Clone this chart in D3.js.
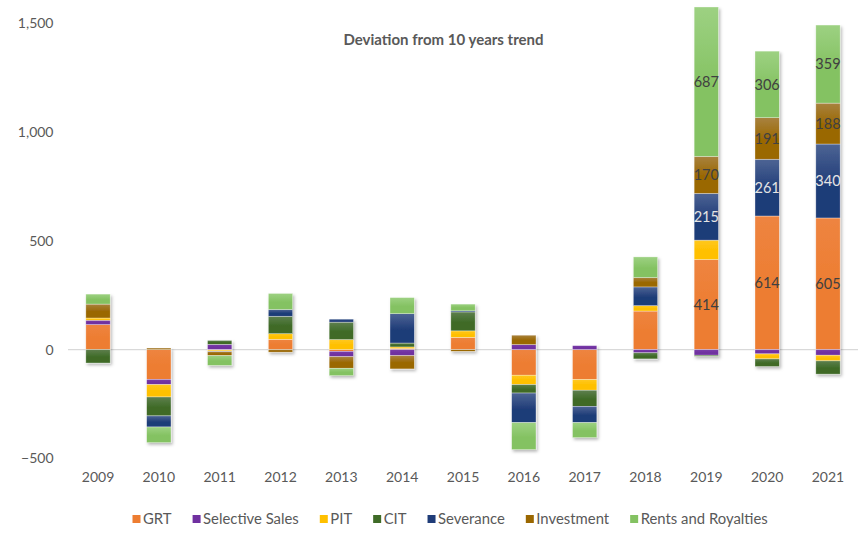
<!DOCTYPE html>
<html><head><meta charset="utf-8">
<script src="https://cdn.jsdelivr.net/npm/d3@7"></script>
<style>
body{margin:0;background:#fff}
svg{display:block;font-family:Lato,"Liberation Sans",sans-serif}
</style>
</head><body>
<svg id="c" width="866" height="534"></svg>
<script>
// ---- data ----
const years = ["2009","2010","2011","2012","2013","2014","2015","2016","2017","2018","2019","2020","2021"];
const seriesNames = ["GRT","Selective Sales","PIT","CIT","Severance","Investment","Rents and Royalties"];
const GRT        = [115,-137, -2, 47, -8,  5, 56,-118,-138,177,414,614,605];
const Selective  = [ 20, -24, 24,  0,-25,-28,  0,  23,  18,-15,-26,-20,-26];
const PIT        = [ 10, -57, -5, 26, 46,  7, 30, -43, -49, 25, 89,-23,-26];
const CIT        = [-62, -87, 18, 80, 80, 18, 87, -39, -74,-28, -5,-35,-61];
const Severance  = [  0, -51, -3, 31, 14,135,  5,-136, -75, 86,215,261,340];
const Investment = [ 64,   7,-18,-12,-53,-61, -8,  43,   0, 43,170,191,188];
const Rents      = [ 46, -72,-45, 74,-34, 74, 31,-124, -69, 95,687,306,359];
const yTicks = [-500, 0, 500, 1000, 1500];
const labelledYears = ["2019","2020","2021"];
const labelThreshold = 150;
const title = "Deviation from 10 years trend";

const seriesValues = [GRT, Selective, PIT, CIT, Severance, Investment, Rents];
const colors = ["#ED7D31","#7030A0","#FFC000","#3F6B27","#1F3C78","#9A6700","#84C262"];
const lightTops = ["#EE8440","#7A3FAA","#FFC81F","#5E7F4E","#4D6494","#A8823F","#9DD182"];

const rows = years.map((y,i)=>{
  const r = {year:y};
  seriesNames.forEach((s,j)=> r[s] = seriesValues[j][i]);
  return r;
});

const svg = d3.select("#c");

const x = d3.scaleBand().domain(years).range([67.6, 858.4]).paddingInner(0.6).paddingOuter(0.3);
const y = d3.scaleLinear().domain([-500, 1500]).range([458.3, 23.3]);

const defs = svg.append("defs");
seriesNames.forEach((s,j)=>{
  const g = defs.append("linearGradient").attr("id","g"+j).attr("x1",0).attr("y1",0).attr("x2",0).attr("y2",1);
  g.append("stop").attr("offset","0%").attr("stop-color",lightTops[j]);
  g.append("stop").attr("offset","55%").attr("stop-color",colors[j]);
  g.append("stop").attr("offset","100%").attr("stop-color",colors[j]);
});
const f = defs.append("filter").attr("id","sh").attr("x","-30%").attr("y","-30%").attr("width","160%").attr("height","160%");
f.append("feDropShadow").attr("dx",1.5).attr("dy",2).attr("stdDeviation",1.6).attr("flood-color","#000").attr("flood-opacity",0.28);

// y axis
const yAxis = d3.axisLeft(y).tickValues(yTicks).tickSize(0).tickPadding(14.5).tickFormat(d3.format(","));
const ya = svg.append("g").attr("transform","translate(68,0)").call(yAxis);
ya.select(".domain").remove();
ya.selectAll("text").attr("fill","#595959").style("font-size","14px").style("font-family","Lato");

// zero line
svg.append("line").attr("x1",68).attr("x2",858).attr("y1",y(0)).attr("y2",y(0))
  .attr("stroke","#D9D9D9").attr("stroke-width",1.2);

// x axis
const xAxis = d3.axisBottom(x).tickSize(0).tickPadding(14);
const xa = svg.append("g").attr("transform",`translate(0,${y(-500)})`).call(xAxis);
xa.select(".domain").remove();
xa.selectAll("text").attr("fill","#595959").style("font-size","14px").style("font-family","Lato");

// stacked bars
const stack = d3.stack().keys(seriesNames).offset(d3.stackOffsetDiverging);
const stacked = stack(rows);

const barsG = svg.append("g").attr("filter","url(#sh)");
stacked.forEach((layer,j)=>{
  barsG.append("g").selectAll("rect").data(layer.filter(d=>d[1]!==d[0])).join("rect")
    .attr("x", d=>x(d.data.year))
    .attr("width", x.bandwidth())
    .attr("y", d=>y(Math.max(d[0],d[1])))
    .attr("height", d=>Math.abs(y(d[0])-y(d[1])))
    .attr("fill", `url(#g${j})`)
    .attr("stroke","#ffffff").attr("stroke-opacity",0.55).attr("stroke-width",0.6);
});

// labels
const lab = svg.append("g");
stacked.forEach((layer,j)=>{
  lab.selectAll(null).data(layer.filter(d=>labelledYears.includes(d.data.year) && d.data[seriesNames[j]]>=labelThreshold))
    .join("text")
    .attr("x", d=>x(d.data.year)+x.bandwidth()/2)
    .attr("y", d=>y((d[0]+d[1])/2))
    .attr("dy","0.36em")
    .attr("text-anchor","middle")
    .attr("fill", seriesNames[j]==="Severance" ? "#E4E4E4" : "#404040")
    .style("font-size","14.5px")
    .text(d=>d.data[seriesNames[j]]);
});

// title
svg.append("text").attr("x",443.5).attr("y",40).attr("dy","0.35em").attr("text-anchor","middle")
  .attr("fill","#595959").style("font-size","15px").style("font-weight","bold").text(title);

// legend
const leg = svg.append("g");
let lx = 132.5;
const ly = 519;
const items = seriesNames.map((s,j)=>{
  const g = leg.append("g");
  g.append("rect").attr("width",8).attr("height",8).attr("y",ly-4).attr("fill",colors[j]);
  const t = g.append("text").attr("x",10.5).attr("y",ly).attr("dy","0.35em").attr("fill","#595959")
    .style("font-size","14px").text(s);
  return {g,t};
});
let total = 0; items.forEach(it=> total += it.t.node().getComputedTextLength());
const fs = 14*436/total;
items.forEach(it=>{
  it.t.style("font-size",fs+"px");
  it.g.attr("transform",`translate(${lx},0)`);
  lx += 10.5 + it.t.node().getComputedTextLength() + 21;
});
</script>
</body></html>
